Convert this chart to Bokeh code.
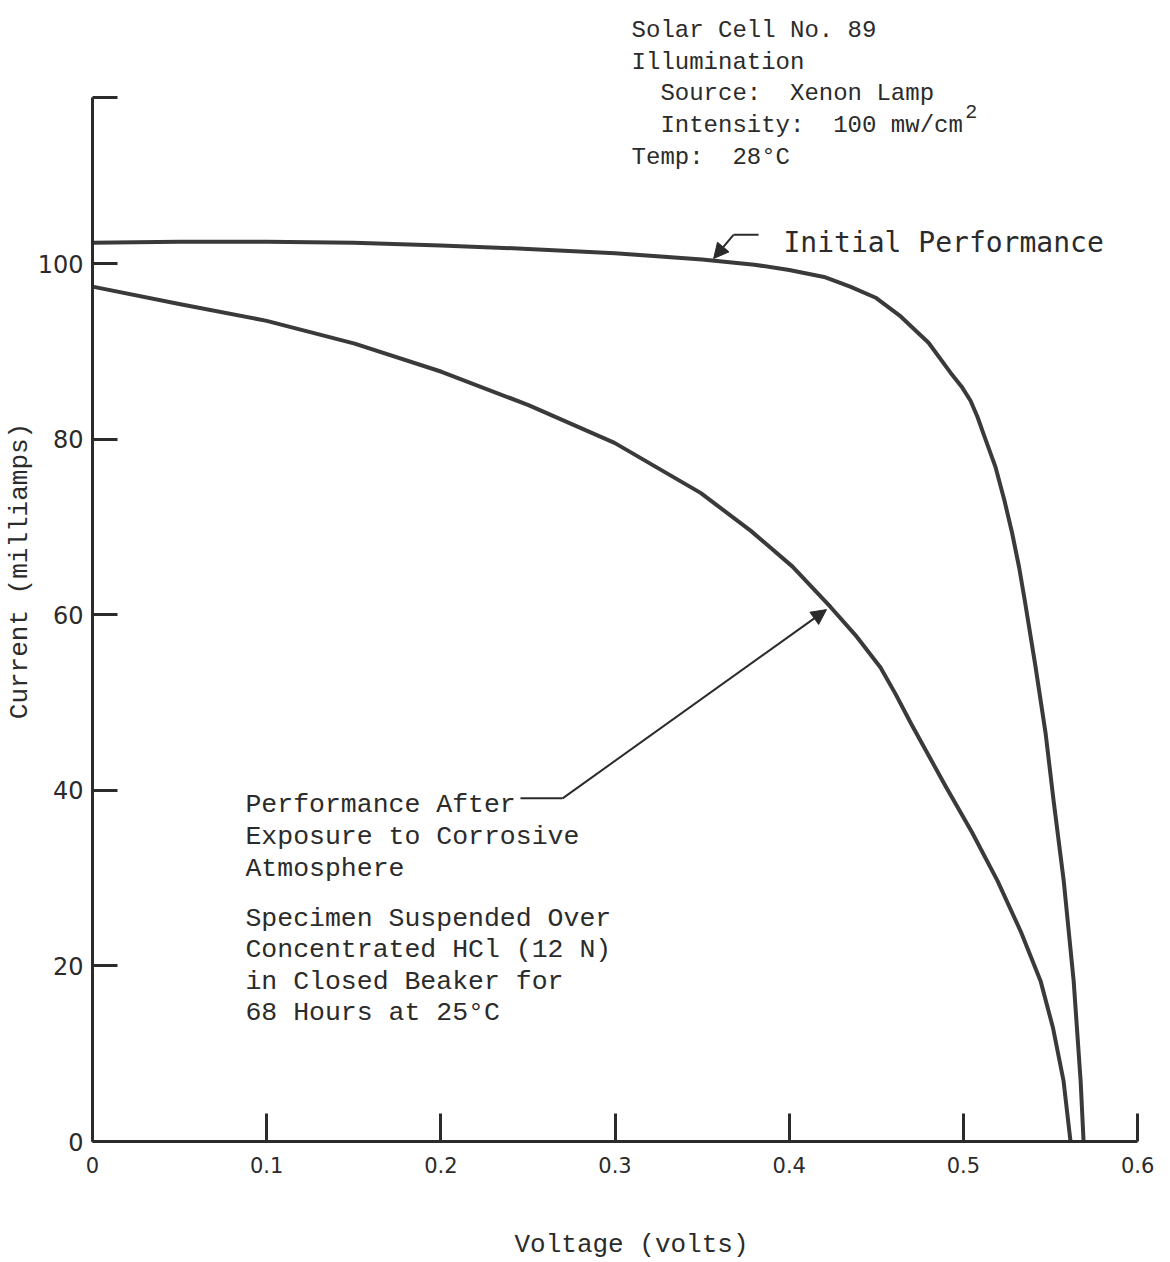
import math

from bokeh.plotting import figure
from bokeh.models import Range1d, FixedTicker, Label, Arrow, NormalHead
from bokeh.embed import file_html
from bokeh.resources import INLINE

# Current-voltage curves of solar cell No. 89 (volts, milliamps)
initial_v = [0.000, 0.050, 0.100, 0.150, 0.200, 0.250, 0.300, 0.350, 0.380, 0.400,
             0.420, 0.435, 0.450, 0.464, 0.480, 0.4926, 0.499, 0.5041, 0.508,
             0.5116, 0.5185, 0.5236, 0.5280, 0.5320, 0.5352, 0.5414, 0.5472,
             0.5518, 0.5576, 0.5633, 0.5673, 0.5690]
initial_i = [102.4, 102.5, 102.5, 102.4, 102.1, 101.7, 101.2, 100.5, 99.9, 99.3,
             98.5, 97.4, 96.1, 94.0, 91.0, 87.6, 86.0, 84.4, 82.6,
             80.6, 76.8, 73.0, 69.3, 65.4, 61.7, 54.1, 46.5,
             38.8, 29.7, 18.3, 6.9, 0.0]

corroded_v = [0.000, 0.0505, 0.100, 0.1505, 0.2004, 0.2503, 0.2997, 0.3491, 0.3778,
              0.4019, 0.4237, 0.438, 0.4524, 0.461, 0.470, 0.4897, 0.505, 0.5196,
              0.533, 0.5443, 0.5515, 0.5575, 0.5615]
corroded_i = [97.4, 95.4, 93.5, 90.9, 87.7, 83.9, 79.6, 73.9, 69.6,
              65.5, 60.9, 57.7, 54.0, 51.0, 47.6, 40.5, 35.2, 29.7,
              23.9, 18.3, 12.9, 6.9, 0.0]

x_ticks = [0, 0.1, 0.2, 0.3, 0.4, 0.5, 0.6]
x_tick_labels = ["0", "0.1", "0.2", "0.3", "0.4", "0.5", "0.6"]
y_ticks = [0, 20, 40, 60, 80, 100, 119]
y_tick_labels = ["0", "20", "40", "60", "80", "100", ""]

INK = "#2b2b2b"
MONO = "Liberation Mono"
NB = "\u00a0"

# frame reaches the top and right edges of the canvas; axis lines are bounded
p = figure(width=1170, height=1262,
           x_range=Range1d(0, 0.6189), y_range=Range1d(0, 130.0),
           output_backend="svg", toolbar_location=None,
           min_border_left=92, min_border_right=0,
           min_border_top=0, min_border_bottom=121)
p.background_fill_color = "white"
p.border_fill_color = "white"
p.outline_line_color = None
p.xgrid.visible = False
p.ygrid.visible = False

xa = p.xaxis[0]
xa.bounds = (0, 0.6)
xa.ticker = FixedTicker(ticks=x_ticks)
xa.major_label_overrides = dict(zip(x_ticks, x_tick_labels))
xa.major_tick_in = 28
xa.major_tick_out = 0
xa.minor_tick_in = 0
xa.minor_tick_out = 0
xa.axis_line_width = 3
xa.axis_line_color = INK
xa.major_tick_line_width = 3
xa.major_tick_line_color = INK
xa.major_label_text_font = "DejaVu Sans"
xa.major_label_text_font_size = "21px"
xa.major_label_text_color = INK
xa.major_label_standoff = 15
xa.axis_label = "Voltage (volts)"
xa.axis_label_text_font = MONO
xa.axis_label_text_font_size = "26px"
xa.axis_label_text_font_style = "normal"
xa.axis_label_text_color = INK
xa.axis_label_standoff = 54

ya = p.yaxis[0]
ya.bounds = (0, 119)
ya.ticker = FixedTicker(ticks=y_ticks)
ya.major_label_overrides = dict(zip(y_ticks, y_tick_labels))
ya.major_tick_in = 25
ya.major_tick_out = 0
ya.minor_tick_in = 0
ya.minor_tick_out = 0
ya.axis_line_width = 3
ya.axis_line_color = INK
ya.major_tick_line_width = 3
ya.major_tick_line_color = INK
ya.major_label_text_font = "DejaVu Sans"
ya.major_label_text_font_size = "24px"
ya.major_label_text_color = INK
ya.major_label_standoff = 9
ya.axis_label = "Current (milliamps)"
ya.axis_label_text_font = MONO
ya.axis_label_text_font_size = "26px"
ya.axis_label_text_font_style = "normal"
ya.axis_label_text_color = INK
ya.axis_label_standoff = 0

# the two characteristic curves
p.line(initial_v, initial_i, line_width=4, line_color="#3a3a3a", line_join="round")
p.line(corroded_v, corroded_i, line_width=4, line_color="#3a3a3a", line_join="round")


def note(x, y, text, size, font=MONO, **kw):
    p.add_layout(Label(x=x, y=y, text=text, text_font=font,
                       text_font_size=size, text_color=INK,
                       text_baseline=kw.pop("baseline", "alphabetic"),
                       text_align=kw.pop("align", "left"), **kw))


# test conditions block
cond = ["Solar Cell No. 89",
        "Illumination",
        NB * 2 + "Source:" + NB * 2 + "Xenon Lamp",
        NB * 2 + "Intensity:" + NB * 2 + "100 mw/cm",
        "Temp:" + NB * 2 + "28°C"]
for k, line in enumerate(cond):
    note(0.3095, 126.6 - 3.62 * k, line, "24px")
note(0.5010, 117.3, "2", "20px")

# exposure description
desc = [(38.3, "Performance After"),
        (34.66, "Exposure to Corrosive"),
        (31.1, "Atmosphere"),
        (25.4, "Specimen Suspended Over"),
        (21.78, "Concentrated HCl (12 N)"),
        (18.13, "in Closed Beaker for"),
        (14.6, "68 Hours at 25°C")]
for yy, line in desc:
    note(0.0878, yy, line, "26.5px")

note(0.3967, 102.39, "Initial Performance", "28px", font="DejaVu Sans Mono")

# leader lines with arrowheads
p.line([0.3824, 0.3680], [103.3, 103.3], line_width=2, line_color=INK)
p.add_layout(Arrow(end=NormalHead(size=15, fill_color=INK, line_color=INK),
                   x_start=0.3680, y_start=103.3, x_end=0.3566, y_end=100.6,
                   line_width=2, line_color=INK))
p.line([0.2457, 0.2699], [39.1, 39.1], line_width=2, line_color=INK)
p.add_layout(Arrow(end=NormalHead(size=15, fill_color=INK, line_color=INK),
                   x_start=0.2699, y_start=39.1, x_end=0.4214, y_end=60.6,
                   line_width=2, line_color=INK))

open("out.html", "w").write(file_html(p, INLINE))
